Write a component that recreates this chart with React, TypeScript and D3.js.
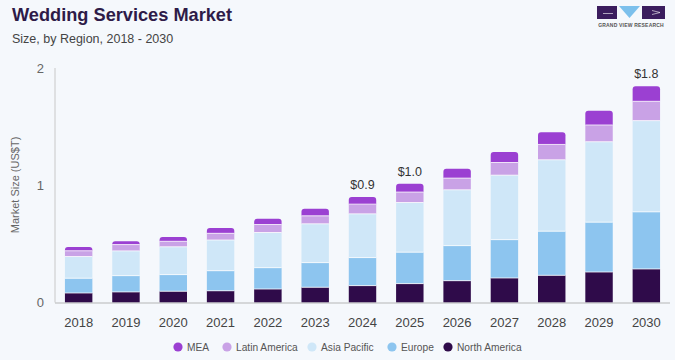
import * as d3 from "d3";

// Wedding services market, US$ trillion, by region
const years = ["2018", "2019", "2020", "2021", "2022", "2023", "2024", "2025", "2026", "2027", "2028", "2029", "2030"];
const northAmerica = [0.081, 0.09, 0.096, 0.1, 0.115, 0.13, 0.144, 0.161, 0.186, 0.209, 0.232, 0.26, 0.286];
const europe = [0.126, 0.139, 0.142, 0.171, 0.182, 0.21, 0.239, 0.268, 0.299, 0.327, 0.376, 0.425, 0.487];
const asiaPacific = [0.185, 0.211, 0.237, 0.262, 0.3, 0.331, 0.373, 0.424, 0.476, 0.55, 0.609, 0.686, 0.778];
const latinAmerica = [0.049, 0.054, 0.047, 0.057, 0.068, 0.068, 0.083, 0.089, 0.1, 0.108, 0.131, 0.143, 0.165];
const mea = [0.032, 0.029, 0.036, 0.045, 0.049, 0.06, 0.06, 0.071, 0.08, 0.089, 0.103, 0.122, 0.128];
const yTicks = [0, 1, 2];
const valueLabels = [
  { year: "2024", text: "$0.9" },
  { year: "2025", text: "$1.0" },
  { year: "2030", text: "$1.8" },
];

const series = [
  { key: "North America", values: northAmerica, color: "#2f0b4a" },
  { key: "Europe", values: europe, color: "#8dc5ef" },
  { key: "Asia Pacific", values: asiaPacific, color: "#cfe7f8" },
  { key: "Latin America", values: latinAmerica, color: "#c9a2e6" },
  { key: "MEA", values: mea, color: "#9b40d2" },
];
const legendOrder = ["MEA", "Latin America", "Asia Pacific", "Europe", "North America"];

const W = 675;
const H = 360;
const FONT = "'Liberation Sans', Arial, Helvetica, sans-serif";

function topRounded(x: number, y: number, w: number, h: number, r: number) {
  const rr = Math.min(r, h, w / 2);
  return `M${x},${y + h}V${y + rr}Q${x},${y} ${x + rr},${y}H${x + w - rr}Q${x + w},${y} ${x + w},${y + rr}V${y + h}Z`;
}

export default function App() {
  const x = d3.scaleBand().domain(years).range([55, 670]).paddingInner(0.42).paddingOuter(0.21);
  const y = d3.scaleLinear().domain([0, 2]).range([302.5, 68]);

  const rows = years.map((yr, i) => {
    const r: any = { year: yr };
    series.forEach((s) => (r[s.key] = s.values[i]));
    return r;
  });
  const stacked = d3.stack().keys(series.map((s) => s.key))(rows);
  const totals = years.map((_, i) => d3.sum(series, (s) => s.values[i]));

  const legendX = [178, 227, 312, 392, 448];

  return (
    <svg width={W} height={H} style={{ position: "absolute", left: 0, top: 0, fontFamily: FONT }}>
      <rect x={0} y={0} width={W} height={H} fill="#f5f8fc" />

      {/* title */}
      <text x={12} y={21} fontSize={18.2} fontWeight={700} fill="#2e1b48">Wedding Services Market</text>
      <text x={12} y={43} fontSize={12.5} fill="#444">Size, by Region, 2018 - 2030</text>

      {/* logo */}
      <g>
        <rect x={597} y={6} width={20} height={13} fill="#3b1d5e" />
        <path d="M603,13.5H613" stroke="#fff" strokeWidth={0.6} />
        <path d="M619,6H640L629.5,18Z" fill="#7cc0ec" />
        <rect x={642} y={6} width={23} height={13} fill="#3b1d5e" />
        <path d="M652,10.5L660,12.5L652,14.5" stroke="#fff" strokeWidth={0.6} fill="none" />
        <text x={631} y={27} fontSize={5} fontWeight={700} fill="#555" textAnchor="middle" letterSpacing={0.2}>GRAND VIEW RESEARCH</text>
      </g>

      {/* y axis */}
      <line x1={55} x2={55} y1={68} y2={y(0)} stroke="#c8c8c8" strokeWidth={1} />
      {yTicks.map((t) => (
        <text key={t} x={44} y={y(t)} dy="0.35em" fontSize={13} fill="#666" textAnchor="end">{t}</text>
      ))}
      <text transform={`translate(19,${185}) rotate(-90)`} fontSize={11} fill="#666" textAnchor="middle">Market Size (US$T)</text>

      {/* bars */}
      {stacked.map((layer, li) => (
        <g key={layer.key} fill={series[li].color}>
          {layer.map((d, i) => {
            const bx = x(years[i])!;
            const bw = x.bandwidth();
            const y0 = y(d[1]);
            const h = y(d[0]) - y(d[1]);
            if (li === stacked.length - 1) {
              return <path key={i} d={topRounded(bx, y0, bw, h, 3)} />;
            }
            return <rect key={i} x={bx} y={y0} width={bw} height={h} />;
          })}
        </g>
      ))}
      {/* thin separators */}
      {stacked.slice(0, -1).map((layer) =>
        layer.map((d, i) => (
          <line key={layer.key + i} x1={x(years[i])!} x2={x(years[i])! + x.bandwidth()} y1={y(d[1])} y2={y(d[1])} stroke="#ffffff" strokeOpacity={0.75} strokeWidth={1} />
        ))
      )}

      {/* x axis */}
      <line x1={55} x2={670} y1={y(0) + 0.5} y2={y(0) + 0.5} stroke="#b5b5b5" strokeWidth={1.2} />
      {years.map((yr) => (
        <text key={yr} x={x(yr)! + x.bandwidth() / 2} y={327} fontSize={13} fill="#444" textAnchor="middle">{yr}</text>
      ))}

      {/* value labels */}
      {valueLabels.map((v) => {
        const i = years.indexOf(v.year);
        return (
          <text key={v.year} x={x(v.year)! + x.bandwidth() / 2} y={y(totals[i]) - 8} fontSize={12.5} fill="#333" textAnchor="middle">{v.text}</text>
        );
      })}

      {/* legend */}
      {legendOrder.map((k, i) => {
        const s = series.find((q) => q.key === k)!;
        return (
          <g key={k}>
            <circle cx={legendX[i]} cy={347} r={4.6} fill={s.color} />
            <text x={legendX[i] + 9} y={347} dy="0.35em" fontSize={10.2} fill="#555">{k}</text>
          </g>
        );
      })}
    </svg>
  );
}
